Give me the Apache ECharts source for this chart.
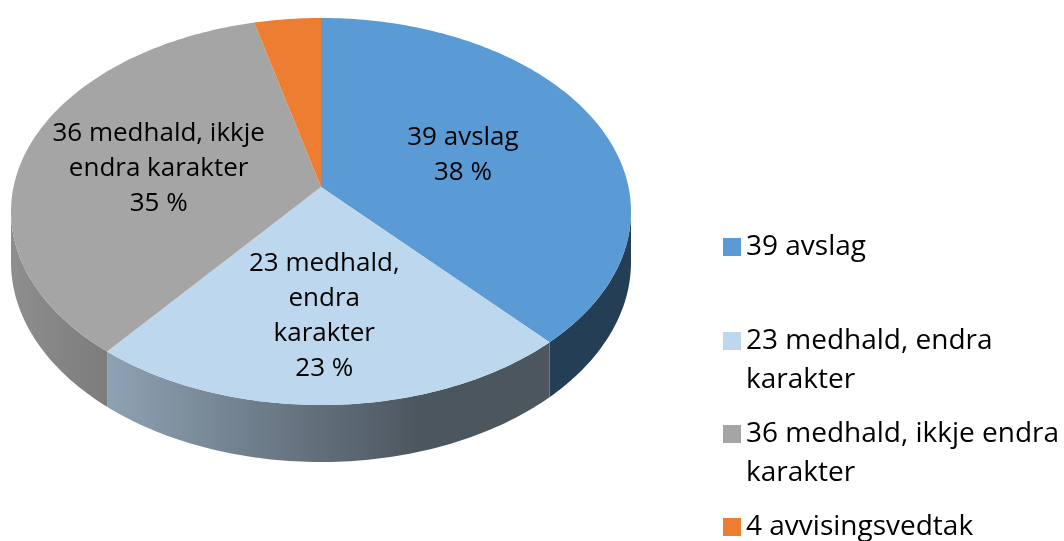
<!DOCTYPE html>
<html><head><meta charset="utf-8">
<script src="https://cdn.jsdelivr.net/npm/echarts@6/dist/echarts.min.js"></script>
<style>html,body{margin:0;padding:0;background:#fff}#main{width:1064px;height:541px}</style>
</head><body><div id="main"></div>
<script>
// ---- data ----
const categories = ['39 avslag', '23 medhald, endra karakter', '36 medhald, ikkje endra karakter', '4 avvisingsvedtak'];
const values = [39, 23, 36, 4];
const sliceLabels = ['39 avslag', '23 medhald,\nendra\nkarakter', '36 medhald, ikkje\nendra karakter', ''];
const colors = ['#5B9BD5', '#BDD7EE', '#A5A5A5', '#ED7D31'];

// ---- geometry of the 3D pie ----
const total = values.reduce((a, b) => a + b, 0);
const CX = 321, CY = 187, RX = 307.5, RY = 190.4, PERSP = 0.1266, DEPTH = 49.8;
const FONT = '"Open Sans", "Liberation Sans", sans-serif';
const starts = [];
let acc = 0;
values.forEach(v => { starts.push(acc / total * 360); acc += v; });
const ends = values.map((v, i) => starts[i] + v / total * 360);

function proj(r, angDeg, drop) {
  const a = angDeg * Math.PI / 180;
  const sx = r * Math.sin(a), d = -r * Math.cos(a);
  const k = 1 / (1 - PERSP * d);
  return [CX + RX * sx * k, CY + RY * d * k + (drop ? DEPTH * k : 0)];
}
function arc(a0, a1, drop) {
  const pts = [];
  const n = Math.max(2, Math.ceil(Math.abs(a1 - a0)));
  for (let j = 0; j <= n; j++) pts.push(proj(1, a0 + (a1 - a0) * j / n, drop));
  return pts;
}
function shade(hex, f) {
  const n = parseInt(hex.slice(1), 16);
  const r = Math.round(((n >> 16) & 255) * f), g = Math.round(((n >> 8) & 255) * f), b = Math.round((n & 255) * f);
  return 'rgb(' + r + ',' + g + ',' + b + ')';
}
const VIS0 = Math.acos(-PERSP) * 180 / Math.PI, VIS1 = 360 - VIS0;

const pieData = values.map((v, i) => ({ value: v, name: categories[i] }));

function renderWall(params) {
  const i = params.dataIndex;
  const a0 = Math.max(starts[i], VIS0), a1 = Math.min(ends[i], VIS1);
  if (a1 <= a0) return null;
  const pts = arc(a0, a1, false).concat(arc(a1, a0, true));
  return {
    type: 'polygon',
    shape: { points: pts },
    style: {
      fill: new echarts.graphic.LinearGradient(11, 0, 420, 0, [
        { offset: 0, color: shade(colors[i], 0.86) },
        { offset: 1, color: shade(colors[i], 0.40) }
      ], true)
    }
  };
}
function renderTop(params) {
  const i = params.dataIndex;
  const pts = [[CX, CY]].concat(arc(starts[i], ends[i], false));
  const children = [{ type: 'polygon', shape: { points: pts }, style: { fill: colors[i] } }];
  if (sliceLabels[i]) {
    const theta = (ends[i] - starts[i]) * Math.PI / 180;
    const rc = 4 * Math.sin(theta / 2) / (3 * theta);
    const p = proj(rc, (starts[i] + ends[i]) / 2, false);
    children.push({
      type: 'text', z2: 10,
      style: {
        text: sliceLabels[i] + '\n' + Math.round(values[i] / total * 100) + ' %',
        x: p[0] - 3, y: p[1] + 3, align: 'center', verticalAlign: 'middle',
        fontFamily: FONT, fontSize: 26, lineHeight: 35, fill: '#000'
      }
    });
  }
  return { type: 'group', children };
}

// ---- legend: wrap text to the available width ----
const LEG_FS = 28, LEG_LH = 39, LEG_W = 318, ICON = 18;
const ctx = document.createElement('canvas').getContext('2d');
ctx.font = LEG_FS + 'px ' + FONT;
function wrap(text) {
  const words = text.split(' ');
  const lines = [];
  let cur = '';
  words.forEach(w => {
    const t = cur ? cur + ' ' + w : w;
    if (ctx.measureText(t).width > LEG_W && cur) { lines.push(cur); cur = w; } else cur = t;
  });
  lines.push(cur);
  return lines;
}
const wrapped = {};
categories.forEach(c => { wrapped[c] = wrap(c); });
const legendCenters = [247, 341, 434, 527];
const legends = categories.map((c, i) => {
  const n = wrapped[c].length;
  // tall icon box with the square at its top, so the square lines up with the first text line
  const h = ICON + (n - 1) * LEG_LH;
  const icon = n > 1
    ? 'path://M0,0L' + ICON + ',0L' + ICON + ',' + ICON + 'L0,' + ICON + 'Z M0,' + h + 'L0.001,' + h + 'L0,' + h + 'Z'
    : 'rect';
  return {
    data: [c], orient: 'vertical', left: 723,
    top: legendCenters[i] - ICON / 2 - (LEG_LH / 2 - ICON / 2),
    padding: 0, itemWidth: ICON, itemHeight: h, icon: icon, selectedMode: false,
    formatter: name => wrapped[name].join('\n'),
    itemStyle: { borderWidth: 0 },
    textStyle: { fontFamily: FONT, fontSize: LEG_FS, lineHeight: LEG_LH, color: '#000' }
  };
});

const chart = echarts.init(document.getElementById('main'), null, { renderer: 'canvas' });
chart.setOption({
  animation: false,
  backgroundColor: '#fff',
  legend: legends,
  series: [
    { type: 'pie', name: 'legendSource', radius: [0, 0], center: [-50, -50], silent: true,
      label: { show: false }, labelLine: { show: false }, itemStyle: { borderWidth: 0 },
      data: categories.map((c, i) => ({ name: c, value: values[i], itemStyle: { color: colors[i] } })) },
    { type: 'custom', name: 'walls', coordinateSystem: 'none', z: 1, silent: true,
      renderItem: renderWall, data: pieData },
    { type: 'custom', name: 'tops', coordinateSystem: 'none', z: 2, silent: true,
      renderItem: renderTop, data: pieData }
  ]
});
</script></body></html>
